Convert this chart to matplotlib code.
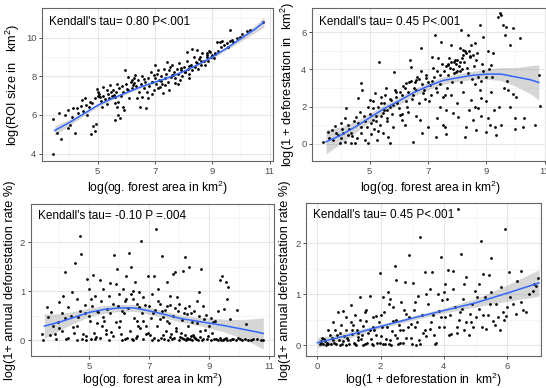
import numpy as np
import matplotlib
matplotlib.use("Agg")
import matplotlib.pyplot as plt
from matplotlib.ticker import MultipleLocator

plt.rcParams['font.family'] = ['Liberation Sans', 'DejaVu Sans']
plt.rcParams['mathtext.fontset'] = 'custom'
plt.rcParams['mathtext.rm'] = 'Liberation Sans'
plt.rcParams['mathtext.it'] = 'Liberation Sans'

# ---------------- Panel 1: og forest area vs ROI size ----------------
p1_x = [3.45, 3.43, 3.71, 3.59, 3.66, 3.86, 3.98, 4.15, 4.29, 3.98, 4.03, 4.21, 4.44, 4.56, 4.73, 4.76, 4.91, 4.85, 4.94,
        4.97, 5.02, 5.08, 5.2, 5.31, 5.43, 5.6, 5.66, 5.72, 5.78, 5.6, 5.72, 5.69, 5.9, 5.92, 5.95, 6.07, 6.19, 6.24,
        6.3, 6.36, 6.48, 6.53, 6.69, 6.77, 6.71, 6.88, 7.0, 7.06, 7.17, 7.29, 7.35, 7.41, 7.52, 7.64, 7.7, 7.87, 8.05,
        8.1, 8.28, 8.45, 8.57, 8.8, 8.92, 9.15, 9.27, 9.62, 9.73, 9.97, 10.2, 10.78,
        4.1, 4.3, 4.5, 4.6, 4.7, 4.8, 4.9, 5.0, 5.05, 5.1, 5.15, 5.2, 5.25, 5.35, 5.4, 5.45, 5.5, 5.55, 5.6, 5.65, 5.75,
        5.8, 5.85, 5.9, 6.0, 6.05, 6.1, 6.15, 6.2, 6.25, 6.35, 6.4, 6.45, 6.5, 6.55, 6.6, 6.65, 6.75, 6.8, 6.85, 6.9,
        6.95, 7.0, 7.05, 7.1, 7.15, 7.2, 7.25, 7.3, 7.35, 7.4, 7.45, 7.5, 7.55, 7.6, 7.65, 7.7, 7.75, 7.8, 7.85, 7.9,
        7.95, 8.0, 8.05, 8.1, 8.15, 8.2, 8.25, 8.3, 8.35, 8.4, 8.45, 8.5, 8.55, 8.6, 8.65, 8.7, 8.75, 8.8, 8.85, 8.9,
        8.95, 9.0, 9.05, 9.1, 9.2, 9.3, 9.35, 9.4, 9.5, 9.55, 9.6, 9.7, 9.85, 10.05, 10.3, 7.5, 7.8, 8.2, 7.1, 6.9,
        6.02, 6.28, 6.62, 6.98, 7.22, 7.58, 7.92, 8.18, 8.42, 8.62, 8.82, 9.08, 5.32, 5.58, 4.42, 4.62]
p1_y = [3.98, 5.79, 4.74, 5.09, 6.09, 6.0, 6.26, 6.34, 6.34, 5.31, 5.48, 5.07, 6.78, 6.86, 6.69, 5.0, 5.17, 5.43, 5.52,
        7.33, 7.21, 6.95, 7.47, 7.29, 7.55, 6.95, 7.59, 6.69, 5.83, 5.74, 6.0, 6.43, 6.43, 6.26, 8.33, 7.98, 7.81, 7.55,
        8.07, 6.86, 6.43, 6.95, 6.34, 6.86, 7.21, 7.72, 8.59, 8.12, 7.43, 7.12, 7.55, 8.76, 8.5, 8.07, 7.64, 7.81, 8.24,
        9.28, 9.4, 9.36, 9.02, 9.19, 9.28, 9.79, 9.79, 10.4, 9.79, 10.05, 10.36, 10.83,
        5.9, 6.1, 6.2, 6.5, 6.4, 6.6, 6.9, 7.0, 7.1, 6.7, 6.4, 7.0, 6.8, 7.1, 6.9, 7.2, 7.0, 7.3, 6.6, 7.2, 7.4,
        7.0, 7.5, 7.2, 7.6, 7.3, 6.9, 7.7, 7.4, 7.9, 7.5, 7.8, 7.2, 7.6, 8.0, 7.4, 7.7, 7.9, 7.5, 8.2, 7.7,
        7.3, 7.9, 7.6, 8.3, 7.8, 8.0, 7.6, 8.4, 7.9, 8.1, 7.7, 8.3, 7.95, 8.6, 8.2, 7.9, 8.4, 8.1, 8.7, 8.3,
        8.0, 8.5, 8.2, 8.8, 8.4, 8.1, 8.6, 8.3, 9.0, 8.5, 8.7, 8.4, 8.9, 8.6, 9.2, 8.8, 8.6, 9.0, 8.8, 9.3,
        9.0, 9.1, 8.95, 9.2, 9.3, 9.5, 9.8, 9.6, 9.7, 9.5, 9.8, 9.9, 10.0, 10.2, 10.4, 7.3, 7.6, 7.9, 7.4, 7.1,
        7.35, 7.65, 7.85, 8.05, 7.75, 8.05, 8.45, 8.55, 8.75, 8.8, 9.1, 9.15, 6.55, 7.05, 6.45, 6.0]
p1_sx = [3.5, 4.0, 4.5, 5.0, 5.5, 6.0, 6.5, 7.0, 7.5, 8.0, 8.5, 9.0, 9.5, 10.0, 10.5, 10.8]
p1_sy = [5.2, 5.6, 6.05, 6.5, 6.85, 7.15, 7.45, 7.7, 7.95, 8.25, 8.6, 9.0, 9.45, 9.95, 10.45, 10.8]
p1_se = [0.25, 0.16, 0.1, 0.08, 0.07, 0.06, 0.06, 0.06, 0.06, 0.06, 0.06, 0.07, 0.09, 0.13, 0.19, 0.25]

# ---------------- Panel 2: og forest area vs deforestation ----------------
p2_x = [3.4, 3.57, 3.69, 3.8, 3.91, 3.97, 4.03, 4.14, 4.2, 4.26, 4.37, 4.49, 4.54, 4.6, 4.71, 4.75, 4.83, 4.94, 5.0,
        5.11, 5.17, 5.32, 5.4, 5.46, 5.55, 5.63, 5.69, 5.74, 5.82, 5.91, 6.03, 6.09, 6.2, 6.26, 6.37, 6.43, 6.49, 6.6,
        6.71, 6.77, 6.83, 6.94, 7.08, 7.15, 7.23, 7.26, 7.34, 7.4, 7.46, 7.51, 7.57, 7.63, 7.69, 7.8, 7.86, 7.91, 7.97,
        8.03, 8.09, 8.14, 8.2, 8.26, 8.31, 8.37, 8.43, 8.49, 8.54, 8.6, 8.66, 8.71, 8.77, 8.83, 8.89, 9.0, 9.06, 9.11,
        9.17, 9.23, 9.29, 9.34, 9.4, 9.46, 9.51, 9.57, 9.63, 9.69, 9.74, 9.8, 9.91, 9.97, 10.03, 10.14, 10.26, 10.66,
        10.8, 10.83,
        7.6, 7.7, 7.75, 7.8, 7.85, 7.9, 7.95, 8.0, 8.05, 8.1, 8.15, 8.2, 8.25, 8.3, 8.35, 8.4, 8.45, 8.5, 8.55, 8.6,
        8.65, 8.7, 8.8, 8.85, 9.0, 9.1,
        5.0, 5.1, 5.2, 5.3, 5.4, 5.5, 5.6, 5.7, 5.8, 5.9, 6.0, 6.1, 6.15, 6.25, 6.3, 6.4, 6.5, 6.55, 6.6, 6.7, 6.8,
        6.9, 7.0, 7.1, 7.2, 7.3, 7.4, 7.5, 7.55, 7.65,
        4.0, 4.1, 4.3, 4.4, 4.6, 4.7, 4.8, 4.9, 5.05, 5.15, 5.25, 5.35, 5.45, 5.6, 5.8, 6.3, 6.6, 6.8, 7.0, 7.3, 7.6,
        7.8, 8.0, 8.2, 8.4, 8.6, 8.8, 9.0, 9.2, 9.5, 9.6, 9.8, 10.0, 10.3,
        3.6, 3.75, 3.85, 4.05, 4.15, 4.25, 4.35, 4.45, 4.55, 4.65, 4.7, 4.85, 4.95, 5.05, 5.12, 5.22, 5.28, 5.38, 5.48,
        5.52, 5.58, 5.68, 5.78, 5.85, 5.95, 6.05, 6.12, 6.22, 6.28, 6.35, 6.45, 6.52, 6.62, 6.68, 6.75, 6.85, 6.92,
        7.02, 7.12, 7.18, 7.28, 7.32, 7.42, 7.48, 7.58, 7.68, 7.72, 7.82, 7.88, 7.98, 8.08, 8.12, 8.18, 8.28, 8.38,
        8.48, 8.58, 8.68, 8.78, 8.9, 9.05, 9.15, 9.25, 9.45, 9.7, 9.9]
p2_y = [0.11, 0.65, 0.74, 0.96, 0.47, 0.02, 1.1, 1.37, 1.9, 0.47, 0.02, 0.02, 1.46, 2.45, 3.25, 2.9, 0.2, 0.02, 2.35,
        1.28, 2.71, 4.42, 2.53, 1.64, 2.98, 0.38, 0.02, 2.35, 3.88, 2.8, 1.55, 1.28, 1.01, 3.25, 4.51, 4.15, 0.11, 3.43,
        1.28, 5.14, 2.71, 3.52, 3.16, 4.69, 5.86, 0.38, 4.6, 2.0, 5.5, 1.01, 0.92, 1.82, 4.24, 5.32, 1.64, 4.51, 3.88,
        1.46, 5.14, 6.13, 5.05, 0.38, 0.92, 5.86, 4.69, 2.35, 1.28, 5.41, 0.74, 1.91, 6.4, 2.45, 5.77, 0.65, 1.37, 1.01,
        4.24, 4.87, 0.92, 0.47, 6.84, 7.02, 6.93, 6.4, 5.86, 6.31, 2.89, 5.32, 6.22, 1.37, 2.53, 5.68, 0.92, 1.01,
        3.7, 2.03,
        4.2, 4.3, 4.1, 4.4, 4.0, 3.8, 4.3, 4.5, 4.2, 3.9, 4.6, 4.8, 4.4, 4.9, 4.1, 5.0, 4.7, 3.5, 4.8, 3.2,
        4.5, 3.6, 3.4, 4.3, 3.6, 4.0,
        1.6, 1.9, 1.2, 2.0, 1.5, 2.2, 1.8, 2.4, 2.1, 2.5, 1.9, 2.6, 3.1, 2.3, 2.8, 3.4, 2.6, 3.3, 2.9, 3.5, 3.2,
        2.4, 3.3, 2.6, 3.6, 2.8, 3.7, 2.5, 3.9, 3.0,
        0.3, 0.6, 0.8, 0.4, 1.1, 0.6, 1.5, 0.9, 0.5, 0.8, 0.2, 1.0, 0.6, 1.2, 0.9, 1.7, 1.5, 0.6, 0.9, 1.4, 0.5,
        2.6, 2.2, 2.8, 1.8, 2.0, 1.5, 2.3, 3.6, 1.0, 3.0, 2.0, 0.8, 1.4,
        0.3, 0.2, 0.6, 0.8, 0.1, 1.0, 0.6, 1.2, 0.3, 1.7, 0.9, 1.2, 2.0, 1.1, 2.3, 1.5, 0.7, 2.2, 1.8,
        2.6, 1.4, 2.0, 1.6, 2.9, 2.2, 2.8, 1.6, 3.0, 2.0, 3.3, 2.4, 3.0, 3.6, 2.2, 3.9, 2.9, 3.7,
        2.3, 3.4, 4.1, 3.0, 3.9, 3.2, 4.3, 2.6, 3.7, 4.6, 3.3, 4.4, 3.9, 4.4, 3.3, 4.0, 5.0, 3.8,
        5.3, 4.2, 4.9, 2.9, 3.9, 5.0, 2.8, 1.8, 2.0, 3.4, 2.7]
p2_sx = [3.5, 4.0, 4.5, 5.0, 5.5, 6.0, 6.5, 7.0, 7.5, 8.0, 8.5, 9.0, 9.5, 10.0, 10.5, 10.8]
p2_sy = [0.1, 0.45, 0.9, 1.4, 1.9, 2.3, 2.75, 3.1, 3.4, 3.55, 3.68, 3.75, 3.75, 3.6, 3.45, 3.3]
p2_se = [0.65, 0.45, 0.3, 0.24, 0.21, 0.2, 0.2, 0.2, 0.2, 0.2, 0.22, 0.27, 0.35, 0.5, 0.75, 0.95]

# ---------------- Panel 3: og forest area vs annual deforestation rate ----------------
p3_x = [3.41, 3.47, 3.58, 3.63, 3.74, 3.8, 3.86, 3.97, 4.0, 4.08, 4.13, 4.19, 4.24, 4.3, 4.41, 4.47, 4.52, 4.58, 4.63,
        4.69, 4.74, 4.8, 4.86, 4.89, 4.93, 5.0, 5.04, 5.11, 5.19, 5.22, 5.3, 5.36, 5.41, 5.47, 5.56, 5.6, 5.69, 5.74,
        5.82, 5.89, 5.93, 6.0, 6.04, 6.11, 6.19, 6.24, 6.33, 6.38, 6.41, 6.47, 6.52, 6.6, 6.67, 6.74, 6.8, 6.89, 6.97,
        7.02, 7.08, 7.16, 7.22, 7.3, 7.36, 7.44, 7.52, 7.6, 7.69, 7.78, 7.86, 7.93, 8.02, 8.11, 8.19, 8.27, 8.33, 8.41,
        8.49, 8.58, 8.67, 8.74, 8.82, 8.91, 9.0, 9.13, 9.24, 9.36, 9.44, 9.49, 9.56, 9.6, 9.64, 9.69, 9.8, 9.91, 10.02,
        10.24, 10.47, 10.74, 10.8,
        4.3, 4.6, 4.9, 5.05, 5.15, 5.25, 5.35, 5.45, 5.55, 5.65, 5.7, 5.8, 5.9, 5.95, 6.05, 6.15, 6.2, 6.3, 6.35, 6.45,
        6.5, 6.55, 6.65, 6.7, 6.75, 6.85, 6.95, 7.05, 7.1, 7.2, 7.25, 7.35, 7.4, 7.45, 7.55, 7.6, 7.65, 7.7, 7.75, 7.8,
        7.9, 7.95, 8.05, 8.1, 8.15, 8.2, 8.25, 8.3, 8.35, 8.4, 8.45, 8.55, 8.6, 8.7, 8.75, 8.85, 8.9, 9.05, 9.1, 9.2,
        9.3, 9.4, 9.5, 9.6, 9.7, 9.9, 10.1, 10.3, 3.7, 3.9, 4.0, 4.1, 4.4, 4.5, 4.7, 4.75, 5.0, 5.1, 5.2,
        6.1, 6.25, 6.45, 6.6, 6.8, 6.9, 7.15, 7.3, 7.45, 7.5, 7.62, 7.72, 7.82, 7.88, 7.98, 8.08, 8.18, 8.22, 8.28,
        8.38, 8.42, 8.52, 8.62, 8.68, 8.8, 8.95, 9.15, 9.35, 9.45, 9.55, 9.75, 9.95, 10.2, 10.4, 10.6,
        4.2, 4.6, 4.85, 5.05, 5.25, 5.4, 5.5, 5.65, 5.78, 5.98, 6.08, 6.22, 6.4, 6.58, 6.62, 6.78, 7.0, 7.12, 7.28,
        7.42, 7.58, 7.68, 7.85, 8.0, 8.15, 8.32, 8.5, 8.65, 8.8, 9.05, 9.3]
p3_y = [0.13, 0.0, 0.67, 0.47, 0.57, 0.3, 0.13, 0.37, 0.78, 0.2, 0.91, 1.4, 0.03, 0.67, 0.98, 0.27, 1.57, 0.84, 0.47,
        2.12, 1.76, 0.13, 0.71, 0.01, 1.25, 1.05, 0.4, 1.34, 0.91, 0.06, 0.57, 1.23, 0.3, 1.05, 0.13, 0.64, 1.16, 0.16,
        1.73, 1.15, 1.46, 0.27, 0.4, 1.05, 0.81, 1.32, 1.78, 1.5, 0.03, 1.01, 1.18, 0.4, 0.67, 2.03, 0.88, 0.3, 1.32,
        0.1, 0.95, 1.32, 2.27, 1.05, 0.44, 1.71, 0.61, 1.18, 0.06, 1.35, 1.39, 0.88, 0.06, 1.42, 1.69, 0.54, 1.5, 0.37,
        0.06, 0.81, 0.98, 1.46, 0.44, 0.03, 0.3, 0.37, 0.03, 1.23, 1.32, 0.64, 1.18, 0.84, 1.08, 0.44, 0.03, 0.62, 0.03,
        0.33, 0.03, 0.01, 0.01,
        0.05, 0.0, 0.08, 0.03, 0.15, 0.35, 0.05, 0.48, 0.22, 0.0, 0.55, 0.08, 0.38, 0.7, 0.12, 0.55, 0.02, 0.65, 0.2, 0.85,
        0.45, 0.05, 0.98, 0.25, 0.55, 0.72, 0.15, 0.45, 0.0, 0.62, 0.3, 0.75, 0.05, 0.48, 0.2, 0.7, 0.35, 0.72, 0.02, 0.5,
        0.25, 0.6, 0.15, 0.42, 0.02, 0.65, 0.05, 0.3, 0.02, 0.55, 0.1, 0.02, 0.35, 0.18, 0.0, 0.22, 0.52, 0.0, 0.15, 0.4,
        0.0, 0.0, 0.02, 0.0, 0.0, 0.0, 0.0, 0.0, 0.1, 0.02, 0.25, 0.55, 0.5, 0.15, 0.6, 0.02, 0.5, 0.7, 0.02,
        0.0, 0.05, 0.0, 0.08, 0.02, 0.12, 0.04, 0.0, 0.1, 0.02, 0.0, 0.12, 0.04, 0.18, 0.0, 0.05, 0.1, 0.0, 0.02,
        0.08, 0.0, 0.04, 0.0, 0.06, 0.02, 0.08, 0.02, 0.05, 0.0, 0.04, 0.02, 0.04, 0.02, 0.0, 0.02,
        0.45, 0.3, 0.55, 0.85, 0.6, 0.8, 0.4, 0.9, 0.75, 0.95, 0.6, 0.85, 0.95, 0.75, 0.3, 0.4, 0.7, 0.55, 0.8,
        0.6, 0.4, 0.9, 0.65, 0.75, 0.55, 0.7, 0.6, 0.5, 0.7, 0.45, 0.6]
p3_sx = [3.5, 4.0, 4.5, 5.0, 5.5, 6.0, 6.5, 7.0, 7.5, 8.0, 8.5, 9.0, 9.5, 10.0, 10.5, 10.8]
p3_sy = [0.29, 0.37, 0.47, 0.57, 0.63, 0.66, 0.66, 0.6, 0.53, 0.45, 0.4, 0.35, 0.3, 0.24, 0.18, 0.14]
p3_se = [0.25, 0.17, 0.12, 0.09, 0.08, 0.07, 0.07, 0.07, 0.07, 0.07, 0.08, 0.1, 0.13, 0.18, 0.26, 0.32]

# ---------------- Panel 4: deforestation vs annual deforestation rate ----------------
p4_x = [4.44, 3.23, 5.92, 5.18, 4.55, 2.89, 3.92, 5.49, 2.44, 1.97, 3.39, 3.63, 4.13, 4.29, 4.71, 5.23, 5.44, 6.07, 6.44,
        6.97, 2.76, 3.02, 2.47, 2.23, 2.07, 1.65, 1.34, 1.07, 0.81, 0.65, 0.89, 0.49, 0.34, 0.13, 0.07, 0.18, 0.28, 0.44,
        0.71, 0.92, 1.23, 1.44, 1.76, 2.07, 2.34, 2.55, 3.13, 3.71, 1.28, 1.13, 1.55, 1.76, 1.86, 2.28, 2.39, 2.6, 2.81,
        2.97, 3.18, 3.44, 3.44, 3.55, 3.84, 3.95, 4.05, 4.21, 4.42, 4.58, 4.65, 4.81, 4.91, 4.97, 5.12, 5.33, 5.54, 5.6,
        5.76, 5.86, 5.97, 6.2, 6.28, 6.44, 6.81, 6.86, 6.92,
        0.2, 0.3, 0.4, 0.5, 0.55, 0.6, 0.7, 0.75, 0.8, 0.9, 0.95, 1.0, 1.05, 1.1, 1.15, 1.2, 1.25, 1.3, 1.35, 1.4, 1.5,
        1.55, 1.6, 1.7, 1.75, 1.8, 1.9, 1.95, 2.0, 2.1, 2.15, 2.2, 2.3, 2.4, 2.45, 2.5, 2.6, 2.65, 2.7, 2.8, 2.9, 3.0,
        3.05, 3.1, 3.2, 3.3, 3.35, 3.5, 3.6, 3.7, 3.8, 3.9, 4.0, 4.1, 4.2, 4.3, 4.4, 4.5, 4.6, 4.7, 4.8, 4.9, 5.0, 5.1,
        5.2, 5.3, 5.4, 5.5, 5.65, 5.8, 5.9, 6.1, 6.3, 6.5, 6.7,
        0.1, 0.15, 0.25, 0.35, 0.45, 0.52, 0.62, 0.68, 0.78, 0.85, 0.98, 1.08, 1.18, 1.28, 1.38, 1.45, 1.58, 1.65,
        1.72, 1.85, 1.98, 2.05, 2.18, 2.25, 2.35, 2.52, 2.58, 2.72, 2.85, 2.95, 3.15, 3.25, 3.4, 3.65, 3.75, 3.85,
        4.05, 4.15, 4.35, 4.48, 4.62, 4.85, 5.05, 5.25, 5.45, 5.7, 6.0, 6.6, 1.5, 2.0, 2.3, 2.75, 3.1, 3.55, 4.0]
p4_y = [2.66, 2.12, 2.28, 2.04, 1.78, 1.76, 1.73, 1.71, 1.56, 1.41, 1.43, 1.43, 1.48, 1.45, 1.33, 1.4, 1.38, 1.43, 1.46,
        1.32, 1.24, 1.22, 1.28, 1.05, 0.94, 0.97, 0.94, 0.79, 0.68, 0.65, 0.55, 0.45, 0.29, 0.09, 0.03, 0.03, 0.01, 0.03,
        0.01, 0.01, 0.01, 0.01, 0.01, 0.03, 0.01, 0.03, 0.01, 0.03, 0.16, 0.39, 0.48, 0.35, 0.58, 0.81, 0.48, 0.29, 0.61,
        0.42, 0.97, 1.01, 0.19, 0.32, 0.68, 0.88, 1.2, 0.22, 0.35, 0.71, 1.2, 0.61, 0.35, 1.07, 0.71, 0.32, 0.48, 0.39,
        0.3, 0.65, 0.58, 0.81, 0.61, 0.84, 1.07, 1.2, 1.17,
        0.12, 0.05, 0.2, 0.1, 0.3, 0.02, 0.25, 0.4, 0.08, 0.3, 0.15, 0.02, 0.45, 0.22, 0.05, 0.6, 0.3, 0.1, 0.5, 0.2, 0.03,
        0.7, 0.25, 0.12, 0.55, 0.3, 0.05, 0.45, 0.18, 0.65, 0.02, 0.35, 0.1, 0.75, 0.2, 0.5, 0.05, 0.85, 0.3, 0.15, 0.55,
        0.02, 0.7, 0.35, 0.1, 0.6, 0.25, 0.8, 0.45, 0.2, 1.0, 0.55, 0.35, 0.9, 0.6, 1.1, 0.25, 0.65, 0.9, 0.45, 0.2, 0.8,
        0.55, 1.2, 0.35, 0.95, 0.6, 1.05, 0.8, 1.15, 0.5, 0.95, 1.25, 0.7, 1.0,
        0.05, 0.15, 0.08, 0.02, 0.15, 0.05, 0.2, 0.1, 0.02, 0.18, 0.1, 0.3, 0.02, 0.25, 0.12, 0.38, 0.05, 0.3,
        0.02, 0.2, 0.05, 0.35, 0.12, 0.02, 0.28, 0.15, 0.4, 0.05, 0.35, 0.15, 0.45, 0.02, 0.3, 0.6, 0.05, 0.35,
        0.55, 0.2, 0.75, 0.5, 0.3, 0.45, 0.95, 0.6, 0.8, 0.55, 0.75, 0.65, 0.65, 0.6, 0.9, 0.7, 0.85, 1.1, 1.05]
p4_sx = [0.0, 1.0, 2.0, 3.0, 4.0, 5.0, 6.0, 7.0]
p4_sy = [0.05, 0.2, 0.37, 0.53, 0.68, 0.83, 1.02, 1.22]
p4_se = [0.1, 0.06, 0.04, 0.04, 0.05, 0.08, 0.16, 0.26]

W, H = 546, 388
fig = plt.figure(figsize=(W / 100, H / 100), dpi=100)

def ax_at(l, t, r, b):
    return fig.add_axes([l / W, 1 - b / H, (r - l) / W, (b - t) / H])

GRID_MAJ = '#E6E6E6'
GRID_MIN = '#F2F2F2'
BORDER = '#666666'
TICKC = '#4D4D4D'
LINE = '#3366FF'
FS_XLAB = 8.7
FS_YLAB = 9.2
FS_TXT = 8.5
FS_TICK = 6.8

def style(ax, xmaj, ymaj, xlim, ylim):
    ax.set_xlim(*xlim)
    ax.set_ylim(*ylim)
    ax.xaxis.set_major_locator(MultipleLocator(xmaj))
    ax.xaxis.set_minor_locator(MultipleLocator(xmaj / 2))
    ax.yaxis.set_major_locator(MultipleLocator(ymaj))
    ax.yaxis.set_minor_locator(MultipleLocator(ymaj / 2))
    ax.grid(True, which='major', color=GRID_MAJ, lw=0.8, zorder=0)
    ax.grid(True, which='minor', color=GRID_MIN, lw=0.5, zorder=0)
    ax.set_axisbelow(True)
    for s in ax.spines.values():
        s.set_color(BORDER)
        s.set_linewidth(0.8)
    ax.tick_params(which='major', length=2.5, width=0.6, color='#333333',
                   labelsize=FS_TICK, labelcolor=TICKC, pad=1.5)
    ax.tick_params(which='minor', length=0)

def draw(ax, x, y, sx, sy, se):
    sx = np.asarray(sx); sy = np.asarray(sy); se = np.asarray(se)
    ax.fill_between(sx, sy - se, sy + se, color='#999999', alpha=0.4, lw=0, zorder=2)
    ax.scatter(x, y, s=4.0, c='black', lw=0, zorder=3)
    ax.plot(sx, sy, color=LINE, lw=1.1, zorder=4)

# Panel 1
a1 = ax_at(42, 8, 272.5, 161)
style(a1, 2, 2, (3.056, 11.10), (3.62, 11.53))
a1.set_xticks([5, 7, 9, 11])
a1.set_yticks([4, 6, 8, 10])
draw(a1, p1_x, p1_y, p1_sx, p1_sy, p1_se)
a1.text(0.03, 0.95, "Kendall's tau= 0.80 P<.001", transform=a1.transAxes, fontsize=FS_TXT, va='top', ha='left')
a1.set_xlabel("log(og. forest area in km$^2$)", fontsize=FS_XLAB, labelpad=2)
a1.set_ylabel("log(ROI size in   km$^2$)", fontsize=FS_YLAB, labelpad=3)

# Panel 2
a2 = ax_at(312, 8, 549.6, 161)
style(a2, 2, 2, (3.02, 11.17), (-0.93, 7.31))
a2.set_xticks([5, 7, 9, 11])
a2.set_yticks([0, 2, 4, 6])
draw(a2, p2_x, p2_y, p2_sx, p2_sy, p2_se)
a2.text(0.03, 0.95, "Kendall's tau= 0.45 P<.001", transform=a2.transAxes, fontsize=FS_TXT, va='top', ha='left')
a2.set_xlabel("log(og. forest area in km$^2$)", fontsize=FS_XLAB, labelpad=2)
a2.set_ylabel("log(1 + deforestation in  km$^2$)", fontsize=FS_YLAB, labelpad=3)

# Panel 3
a3 = ax_at(30.7, 204, 274.4, 356)
style(a3, 2, 1, (3.047, 11.17), (-0.32, 2.78))
a3.set_xticks([5, 7, 9, 11])
a3.set_yticks([0, 1, 2])
draw(a3, p3_x, p3_y, p3_sx, p3_sy, p3_se)
a3.text(0.03, 0.96, "Kendall's tau= -0.10 P =.004", transform=a3.transAxes, fontsize=FS_TXT, va='top', ha='left')
a3.set_xlabel("log(og. forest area in km$^2$)", fontsize=FS_XLAB, labelpad=0)
a3.set_ylabel("log(1+ annual deforestation rate %)", fontsize=FS_YLAB, labelpad=3)

# Panel 4
a4 = ax_at(306.3, 203.3, 540.7, 356.3)
style(a4, 2, 1, (-0.35, 7.06), (-0.216, 2.78))
a4.set_xticks([0, 2, 4, 6])
a4.set_yticks([0, 1, 2])
draw(a4, p4_x, p4_y, p4_sx, p4_sy, p4_se)
a4.text(0.03, 0.96, "Kendall's tau= 0.45 P<.001", transform=a4.transAxes, fontsize=FS_TXT, va='top', ha='left')
a4.set_xlabel("log(1 + deforestation in  km$^2$)", fontsize=FS_XLAB, labelpad=0)
a4.set_ylabel("log(1+ annual deforestation rate %)", fontsize=FS_YLAB, labelpad=3)

fig.savefig("out.png", dpi=100)
